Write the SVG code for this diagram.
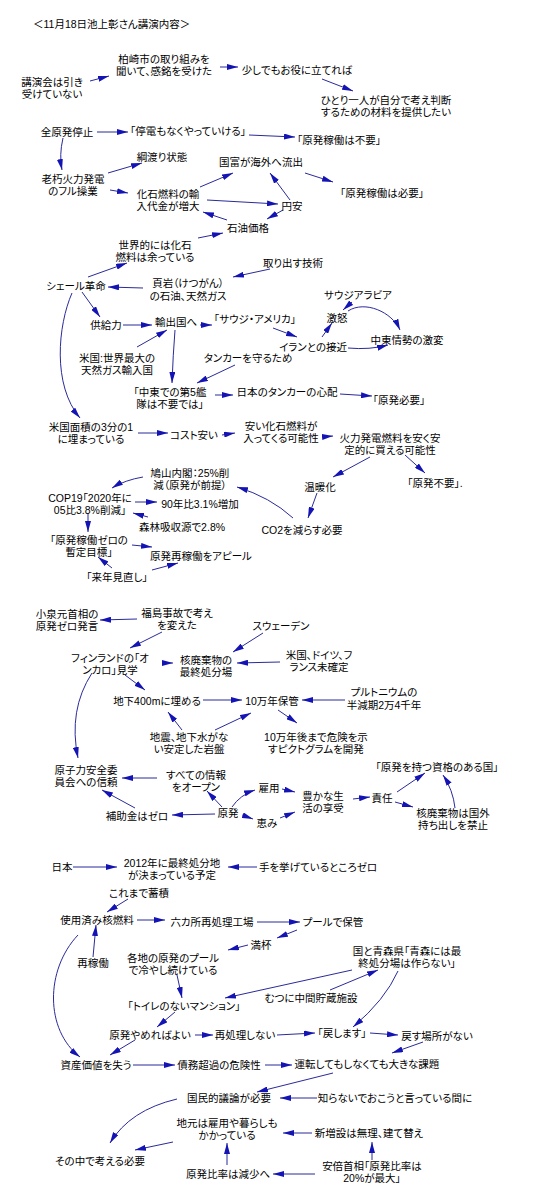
<svg xmlns="http://www.w3.org/2000/svg" width="538" height="1204" viewBox="0 0 538 1204">
<style>
text{font-family:"Liberation Sans","Noto Sans CJK JP","Noto Sans CJK SC",sans-serif;font-size:10.5px;fill:#000;text-anchor:middle;dominant-baseline:central;font-feature-settings:"palt"}
.l{text-anchor:start}
#edges path{fill:none;stroke:#2a2a9a;stroke-width:1;marker-end:url(#a)}
</style>
<defs>
<marker id="a" viewBox="0 0 11 6" refX="11" refY="3" markerWidth="11" markerHeight="6" orient="auto" markerUnits="userSpaceOnUse"><path d="M0,0 L11,3 L0,6 z" fill="#1414b4"/></marker>
</defs>
<rect width="538" height="1204" fill="#fff"/>
<g id="edges">
<path d="M90,81 L109,76"/>
<path d="M220,67 L238,67"/>
<path d="M322,79 L353,91"/>
<path d="M97,132 L128,132"/>
<path d="M249,135 L295,137"/>
<path d="M63,138 Q59,155 62,170"/>
<path d="M108,173 L142,163"/>
<path d="M305,173 L333,182"/>
<path d="M110,190 L128,193"/>
<path d="M200,187 L233,173"/>
<path d="M207,200 L278,204"/>
<path d="M290,200 L270,173"/>
<path d="M227,220 L203,212"/>
<path d="M283,210 L267,219"/>
<path d="M198,238 L223,233"/>
<path d="M88,277 L127,263"/>
<path d="M270,269 L233,277"/>
<path d="M143,288 L108,287"/>
<path d="M352,302 L343,310"/>
<path d="M82,292 L100,317"/>
<path d="M72,293 C58,325 52,385 80,418"/>
<path d="M348,311 C365,300 392,312 400,330"/>
<path d="M123,325 L152,325"/>
<path d="M200,325 L212,325"/>
<path d="M273,328 L297,337"/>
<path d="M322,337 L332,323"/>
<path d="M348,348 Q370,350 388,345"/>
<path d="M137,347 L167,330"/>
<path d="M175,330 Q173,355 172,383"/>
<path d="M235,365 L197,383"/>
<path d="M215,395 L233,395"/>
<path d="M340,394 L372,396"/>
<path d="M138,433 L168,433"/>
<path d="M222,435 L235,433"/>
<path d="M322,437 L333,436"/>
<path d="M370,457 L333,477"/>
<path d="M405,455 L425,473"/>
<path d="M317,493 L308,518"/>
<path d="M293,518 Q270,497 237,487"/>
<path d="M143,477 Q125,480 112,488"/>
<path d="M135,502 L157,502"/>
<path d="M148,517 L133,513"/>
<path d="M88,513 L88,532"/>
<path d="M132,545 L152,547"/>
<path d="M112,568 L98,557"/>
<path d="M152,570 L178,563"/>
<path d="M137,619 L100,620"/>
<path d="M162,632 L130,648"/>
<path d="M263,633 L233,652"/>
<path d="M163,663 L173,663"/>
<path d="M280,662 L237,663"/>
<path d="M125,675 L145,690"/>
<path d="M92,673 Q68,710 78,758"/>
<path d="M203,700 L242,700"/>
<path d="M345,700 L302,700"/>
<path d="M278,710 L297,723"/>
<path d="M182,730 L168,712"/>
<path d="M215,730 L251,713"/>
<path d="M157,778 L122,778"/>
<path d="M222,807 L207,791"/>
<path d="M232,807 Q240,795 255,790"/>
<path d="M282,789 L295,792"/>
<path d="M242,815 L253,819"/>
<path d="M280,818 L295,812"/>
<path d="M215,814 L172,815"/>
<path d="M135,808 L102,790"/>
<path d="M353,799 L370,797"/>
<path d="M397,792 L425,773"/>
<path d="M395,802 L413,807"/>
<path d="M455,808 Q453,790 443,775"/>
<path d="M73,867 L117,867"/>
<path d="M257,867 L228,867"/>
<path d="M128,899 L107,912"/>
<path d="M137,920 L165,920"/>
<path d="M257,922 L300,922"/>
<path d="M297,930 L277,938"/>
<path d="M248,945 L228,950"/>
<path d="M93,957 L96,925"/>
<path d="M352,970 L225,998"/>
<path d="M330,990 L378,970"/>
<path d="M177,975 L182,998"/>
<path d="M398,971 Q385,1000 353,1027"/>
<path d="M78,935 C45,970 45,1030 80,1057"/>
<path d="M175,1012 L157,1027"/>
<path d="M195,1035 L213,1035"/>
<path d="M277,1035 L315,1033"/>
<path d="M370,1033 L398,1035"/>
<path d="M135,1040 L110,1055"/>
<path d="M133,1065 L175,1065"/>
<path d="M265,1065 L292,1065"/>
<path d="M423,1042 L392,1053"/>
<path d="M333,1073 L257,1092"/>
<path d="M317,1098 L280,1098"/>
<path d="M177,1099 Q130,1110 110,1143"/>
<path d="M173,1142 L135,1150"/>
<path d="M312,1133 L283,1133"/>
<path d="M227,1165 L227,1143"/>
<path d="M315,1174 L273,1174"/>
<path d="M372,1160 L372,1142"/>
</g>
<g id="n0"><text class="l" x="33" y="24">＜11月18日池上彰さん講演内容＞</text></g>
<g id="n1"><text x="52" y="82">講演会は引き<tspan x="52" dy="12">受けていない</tspan></text></g>
<g id="n2"><text x="164" y="59">柏崎市の取り組みを<tspan x="164" dy="12">聞いて、感銘を受けた</tspan></text></g>
<g id="n3"><text x="297" y="70">少しでもお役に立てれば</text></g>
<g id="n4"><text x="386" y="100">ひとり一人が自分で考え判断<tspan x="386" dy="12">するための材料を提供したい</tspan></text></g>
<g id="n5"><text x="67" y="132">全原発停止</text></g>
<g id="n6"><text x="188" y="131">「停電もなくやっていける」</text></g>
<g id="n7"><text x="339" y="140">「原発稼働は不要」</text></g>
<g id="n8"><text x="73" y="179">老朽火力発電<tspan x="73" dy="12">のフル操業</tspan></text></g>
<g id="n9"><text x="162" y="157">綱渡り状態</text></g>
<g id="n10"><text x="261" y="162">国富が海外へ流出</text></g>
<g id="n11"><text x="382" y="193">「原発稼働は必要」</text></g>
<g id="n12"><text x="168" y="194">化石燃料の輸<tspan x="168" dy="12">入代金が増大</tspan></text></g>
<g id="n13"><text x="292" y="206">円安</text></g>
<g id="n14"><text x="248" y="228">石油価格</text></g>
<g id="n15"><text x="155" y="245">世界的には化石<tspan x="155" dy="12">燃料は余っている</tspan></text></g>
<g id="n16"><text x="293" y="263">取り出す技術</text></g>
<g id="n17"><text x="188" y="283">頁岩（けつがん）<tspan x="188" dy="13">の石油、天然ガス</tspan></text></g>
<g id="n18"><text x="76" y="286">シェール革命</text></g>
<g id="n19"><text x="358" y="295">サウジアラビア</text></g>
<g id="n20"><text x="337" y="318">激怒</text></g>
<g id="n21"><text x="106" y="325">供給力</text></g>
<g id="n22"><text x="176" y="322">輸出国へ</text></g>
<g id="n23"><text x="255" y="319">「サウジ・アメリカ」</text></g>
<g id="n24"><text x="313" y="347">イランとの接近</text></g>
<g id="n25"><text x="407" y="340">中東情勢の激変</text></g>
<g id="n26"><text x="117" y="358">米国:世界最大の<tspan x="117" dy="12">天然ガス輸入国</tspan></text></g>
<g id="n27"><text x="248" y="358">タンカーを守るため</text></g>
<g id="n28"><text x="170" y="392">「中東での第5艦<tspan x="170" dy="12">隊は不要では」</tspan></text></g>
<g id="n29"><text x="287" y="392">日本のタンカーの心配</text></g>
<g id="n30"><text x="399" y="400">「原発必要」</text></g>
<g id="n31"><text x="91" y="427">米国面積の3分の1<tspan x="91" dy="12">に埋まっている</tspan></text></g>
<g id="n32"><text x="194" y="435">コスト安い</text></g>
<g id="n33"><text x="281" y="426">安い化石燃料が<tspan x="281" dy="12">入ってくる可能性</tspan></text></g>
<g id="n34"><text x="390" y="438">火力発電燃料を安く安<tspan x="390" dy="12">定的に買える可能性</tspan></text></g>
<g id="n35"><text x="435" y="483">「原発不要」.</text></g>
<g id="n36"><text x="320" y="487">温暖化</text></g>
<g id="n37"><text x="190" y="473">鳩山内閣：25%削<tspan x="190" dy="12">減（原発が前提）</tspan></text></g>
<g id="n38"><text x="90" y="498">COP19「2020年に<tspan x="90" dy="12">05比3.8%削減」</tspan></text></g>
<g id="n39"><text x="200" y="504">90年比3.1%増加</text></g>
<g id="n40"><text x="182" y="527">森林吸収源で2.8%</text></g>
<g id="n41"><text x="302" y="530">CO2を減らす必要</text></g>
<g id="n42"><text x="89" y="540">「原発稼働ゼロの<tspan x="89" dy="12">暫定目標」</tspan></text></g>
<g id="n43"><text x="201" y="556">原発再稼働をアピール</text></g>
<g id="n44"><text x="117" y="577">「来年見直し」</text></g>
<g id="n45"><text x="67" y="614">小泉元首相の<tspan x="67" dy="12">原発ゼロ発言</tspan></text></g>
<g id="n46"><text x="177" y="613">福島事故で考え<tspan x="177" dy="12">を変えた</tspan></text></g>
<g id="n47"><text x="281" y="626">スウェーデン</text></g>
<g id="n48"><text x="110" y="658">フィンランドの「オ<tspan x="110" dy="12">ンカロ」見学</tspan></text></g>
<g id="n49"><text x="206" y="660">核廃棄物の<tspan x="206" dy="12">最終処分場</tspan></text></g>
<g id="n50"><text x="319" y="655">米国、ドイツ、フ<tspan x="319" dy="12">ランス未確定</tspan></text></g>
<g id="n51"><text x="157" y="701">地下400mに埋める</text></g>
<g id="n52"><text x="272" y="701">10万年保管</text></g>
<g id="n53"><text x="384" y="692">プルトニウムの<tspan x="384" dy="13">半減期2万4千年</tspan></text></g>
<g id="n54"><text x="189" y="737">地震、地下水がな<tspan x="189" dy="12">い安定した岩盤</tspan></text></g>
<g id="n55"><text x="316" y="737">10万年後まで危険を示<tspan x="316" dy="12">すピクトグラムを開発</tspan></text></g>
<g id="n56"><text x="86" y="770">原子力安全委<tspan x="86" dy="12">員会への信頼</tspan></text></g>
<g id="n57"><text x="196" y="775">すべての情報<tspan x="196" dy="12">をオープン</tspan></text></g>
<g id="n58"><text x="437" y="767">「原発を持つ資格のある国」</text></g>
<g id="n59"><text x="228" y="813">原発</text></g>
<g id="n60"><text x="269" y="788">雇用</text></g>
<g id="n61"><text x="323" y="796">豊かな生<tspan x="323" dy="12">活の享受</tspan></text></g>
<g id="n62"><text x="267" y="823">恵み</text></g>
<g id="n63"><text x="137" y="816">補助金はゼロ</text></g>
<g id="n64"><text x="382" y="798">責任</text></g>
<g id="n65"><text x="453" y="813">核廃棄物は国外<tspan x="453" dy="12">持ち出しを禁止</tspan></text></g>
<g id="n66"><text x="62" y="867">日本</text></g>
<g id="n67"><text x="172" y="863">2012年に最終処分地<tspan x="172" dy="12">が決まっている予定</tspan></text></g>
<g id="n68"><text x="318" y="867">手を挙げているところゼロ</text></g>
<g id="n69"><text x="139" y="893">これまで蓄積</text></g>
<g id="n70"><text x="97" y="920">使用済み核燃料</text></g>
<g id="n71"><text x="212" y="922">六カ所再処理工場</text></g>
<g id="n72"><text x="333" y="922">プールで保管</text></g>
<g id="n73"><text x="261" y="945">満杯</text></g>
<g id="n74"><text x="173" y="958">各地の原発のプール<tspan x="173" dy="12">で冷やし続けている</tspan></text></g>
<g id="n75"><text x="93" y="963">再稼働</text></g>
<g id="n76"><text x="407" y="951">国と青森県「青森には最<tspan x="407" dy="12">終処分場は作らない」</tspan></text></g>
<g id="n77"><text x="311" y="998">むつに中間貯蔵施設</text></g>
<g id="n78"><text x="184" y="1006">「トイレのないマンション」</text></g>
<g id="n79"><text x="150" y="1035">原発やめればよい</text></g>
<g id="n80"><text x="245" y="1035">再処理しない</text></g>
<g id="n81"><text x="342" y="1033">「戻します」</text></g>
<g id="n82"><text x="437" y="1036">戻す場所がない</text></g>
<g id="n83"><text x="96" y="1065">資産価値を失う</text></g>
<g id="n84"><text x="219" y="1065">債務超過の危険性</text></g>
<g id="n85"><text x="367" y="1064">運転してもしなくても大きな課題</text></g>
<g id="n86"><text x="229" y="1098">国民的議論が必要</text></g>
<g id="n87"><text x="395" y="1098">知らないでおこうと言っている間に</text></g>
<g id="n88"><text x="227" y="1123">地元は雇用や暮らしも<tspan x="227" dy="12">かかっている</tspan></text></g>
<g id="n89"><text x="100" y="1161">その中で考える必要</text></g>
<g id="n90"><text x="369" y="1133">新増設は無理、建て替え</text></g>
<g id="n91"><text x="228" y="1174">原発比率は減少へ</text></g>
<g id="n92"><text x="372" y="1166">安倍首相「原発比率は<tspan x="372" dy="12">20%が最大」</tspan></text></g>
</svg>
